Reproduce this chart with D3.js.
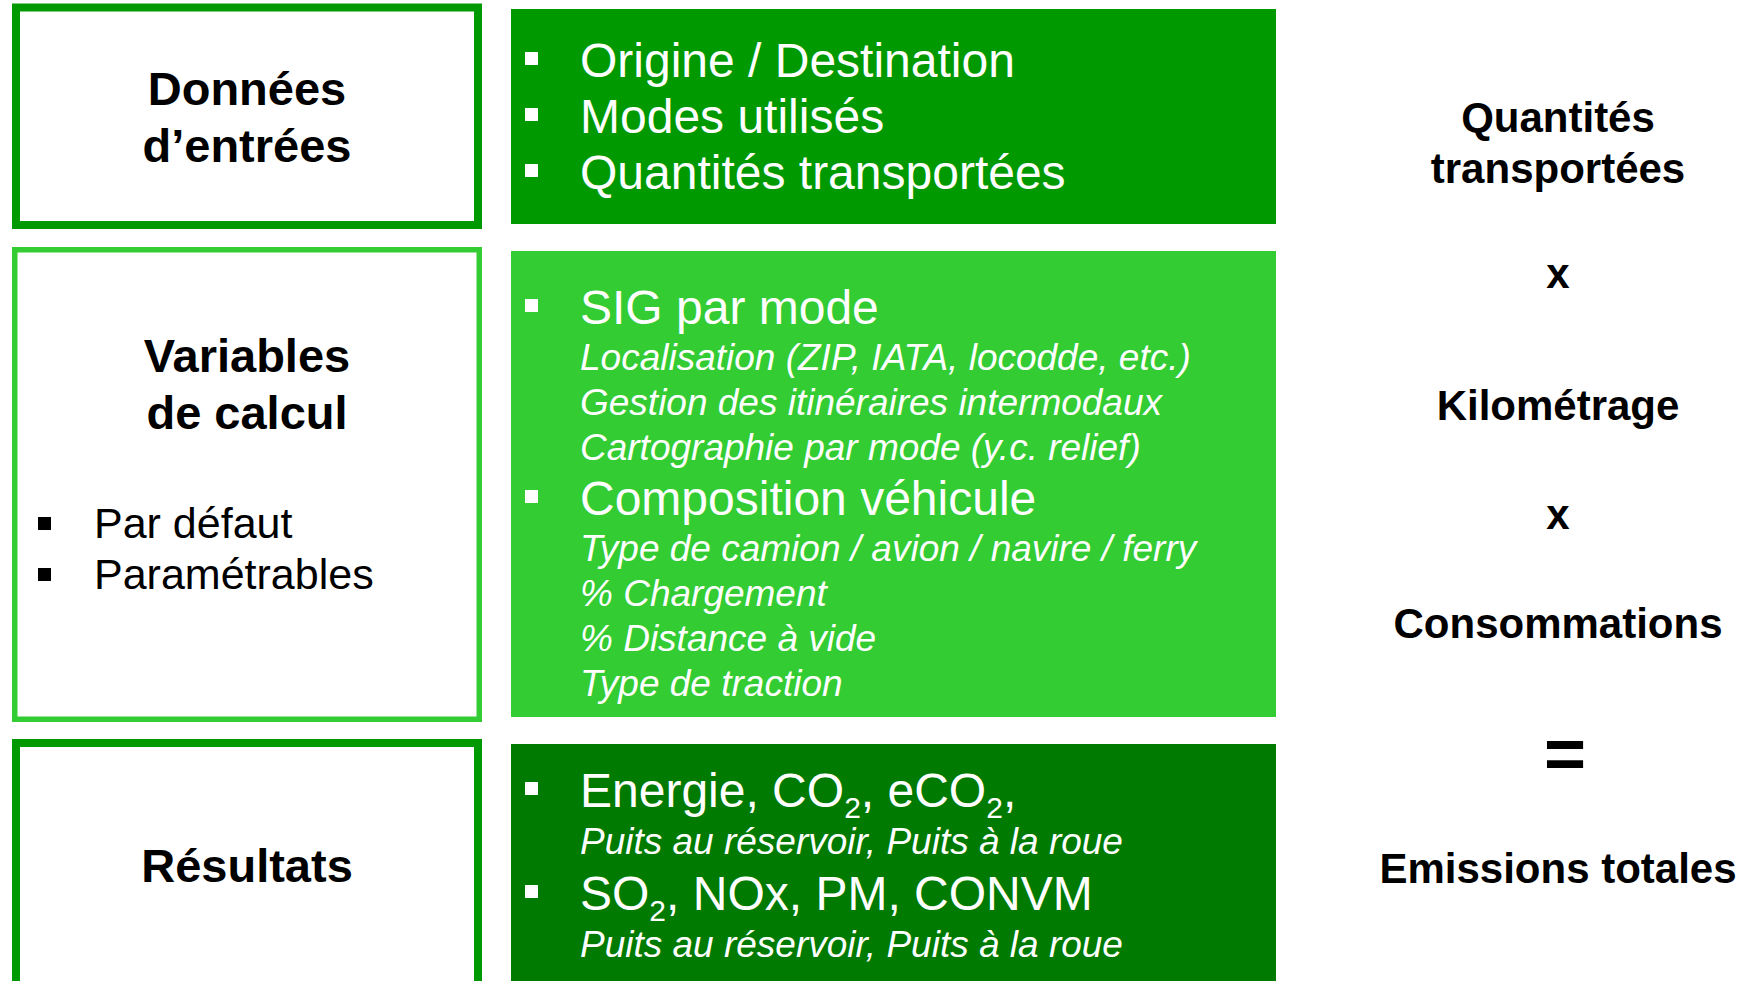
<!DOCTYPE html>
<html><head><meta charset="utf-8">
<script src="https://cdn.jsdelivr.net/npm/d3@7"></script>
<style>html,body{margin:0;padding:0;background:#fff;overflow:hidden}</style>
</head><body>
<svg id="c" width="1749" height="981"></svg>
<script>
// ---------- DATA ----------
const rowKeys = ["entrees", "calcul", "resultats"];
const rowTitles = [["Données", "d’entrées"], ["Variables", "de calcul"], ["Résultats"]];
const calcOptions = ["Par défaut", "Paramétrables"];
const inputItems = [
  { head: ["Origine / Destination"], details: [] },
  { head: ["Modes utilisés"], details: [] },
  { head: ["Quantités transportées"], details: [] }
];
const calcItems = [
  { head: ["SIG par mode"], details: ["Localisation (ZIP, IATA, locodde, etc.)", "Gestion des itinéraires intermodaux", "Cartographie par mode (y.c. relief)"] },
  { head: ["Composition véhicule"], details: ["Type de camion / avion / navire / ferry", "% Chargement", "% Distance à vide", "Type de traction"] }
];
const resultItems = [
  { head: ["Energie, CO", { sub: "2" }, ", eCO", { sub: "2" }, ","], details: ["Puits au réservoir, Puits à la roue"] },
  { head: ["SO", { sub: "2" }, ", NOx, PM, CONVM"], details: ["Puits au réservoir, Puits à la roue"] }
];
const formulaTerms = [["Quantités", "transportées"], ["x"], ["Kilométrage"], ["x"], ["Consommations"], ["="], ["Emissions totales"]];

// ---------- LAYOUT / STYLE ----------
const FONT = "'Liberation Sans', Arial, Helvetica, sans-serif";
const leftBox = { x0: 12, x1: 482 };
const leftRows = [[3.5, 229], [247, 722], [739, 989]];
const leftStroke = [8, 5.5, 8];
const midBox = { x0: 511, x1: 1276 };
const midRows = [[9, 224], [251, 717], [744, 990]];
const rowColor = d3.scaleOrdinal(rowKeys, ["#009900", "#33CC33", "#007A00"]);
const borderColor = d3.scaleOrdinal(rowKeys, ["#009900", "#33CC33", "#009900"]);
const titleBaselines = [[105, 162], [372, 429], [882]];
const optionBaselines = [538, 589];
const blockFirstBaseline = [77, 324, 807];
const headAdv = [56, 55, 56];
const firstDetailAdv = [45, 46, 47];
const detailAdv = [45, 45, 47];
const formulaX = 1558;
const formulaBaselines = [[132, 183], [288], [420], [529], [638], [778], [883]];

const svg = d3.select("#c");

// ---------- LEFT BOXES ----------
const left = svg.append("g");
rowKeys.forEach((k, i) => {
  const sw = leftStroke[i], [y0, y1] = leftRows[i];
  left.append("rect")
    .attr("x", leftBox.x0 + sw / 2).attr("y", y0 + sw / 2)
    .attr("width", leftBox.x1 - leftBox.x0 - sw).attr("height", y1 - y0 - sw)
    .attr("fill", "#fff").attr("stroke", borderColor(k)).attr("stroke-width", sw);
  const cx = (leftBox.x0 + leftBox.x1) / 2;
  rowTitles[i].forEach((t, j) => {
    left.append("text").attr("x", cx).attr("y", titleBaselines[i][j])
      .attr("text-anchor", "middle").attr("font-family", FONT)
      .attr("font-weight", "bold").attr("font-size", 47).attr("fill", "#000").text(t);
  });
});
calcOptions.forEach((t, j) => {
  const y = optionBaselines[j];
  left.append("rect").attr("x", 38).attr("y", y - 21).attr("width", 13).attr("height", 13).attr("fill", "#000");
  left.append("text").attr("x", 94).attr("y", y).attr("font-family", FONT)
    .attr("font-size", 43).attr("fill", "#000").text(t);
});

// ---------- MIDDLE BLOCKS ----------
const mid = svg.append("g");
function drawBlock(items, y, b) {
  items.forEach((item, i) => {
    if (i > 0) y += headAdv[b];
    mid.append("rect").attr("x", 525).attr("y", y - 25).attr("width", 13).attr("height", 13).attr("fill", "#fff");
    const t = mid.append("text").attr("x", 580).attr("y", y).attr("font-family", FONT)
      .attr("font-size", 48).attr("fill", "#fff");
    let pendingUp = false;
    item.head.forEach(s => {
      if (typeof s === "string") {
        const sp = t.append("tspan").text(s);
        if (pendingUp) { sp.attr("dy", -11); pendingUp = false; }
      } else {
        t.append("tspan").attr("font-size", 30).attr("dy", 11).text(s.sub);
        pendingUp = true;
      }
    });
    item.details.forEach((d, j) => {
      y += j === 0 ? firstDetailAdv[b] : detailAdv[b];
      mid.append("text").attr("x", 580).attr("y", y).attr("font-family", FONT)
        .attr("font-style", "italic").attr("font-size", 37).attr("fill", "#fff").text(d);
    });
  });
}
[inputItems, calcItems, resultItems].forEach((items, i) => {
  const [y0, y1] = midRows[i];
  mid.append("rect").attr("x", midBox.x0).attr("y", y0)
    .attr("width", midBox.x1 - midBox.x0).attr("height", y1 - y0)
    .attr("fill", rowColor(rowKeys[i]));
});
[inputItems, calcItems, resultItems].forEach((items, i) => drawBlock(items, blockFirstBaseline[i], i));

// ---------- RIGHT FORMULA ----------
const right = svg.append("g");
formulaTerms.forEach((lines, i) => {
  const isEq = lines[0] === "=";
  lines.forEach((t, j) => {
    right.append("text").attr("x", formulaX + (isEq ? 7 : 0)).attr("y", formulaBaselines[i][j])
      .attr("text-anchor", "middle").attr("font-family", FONT).attr("font-weight", "bold")
      .attr("font-size", isEq ? 72 : 42).attr("fill", "#000").text(t);
  });
});
</script>
</body></html>
